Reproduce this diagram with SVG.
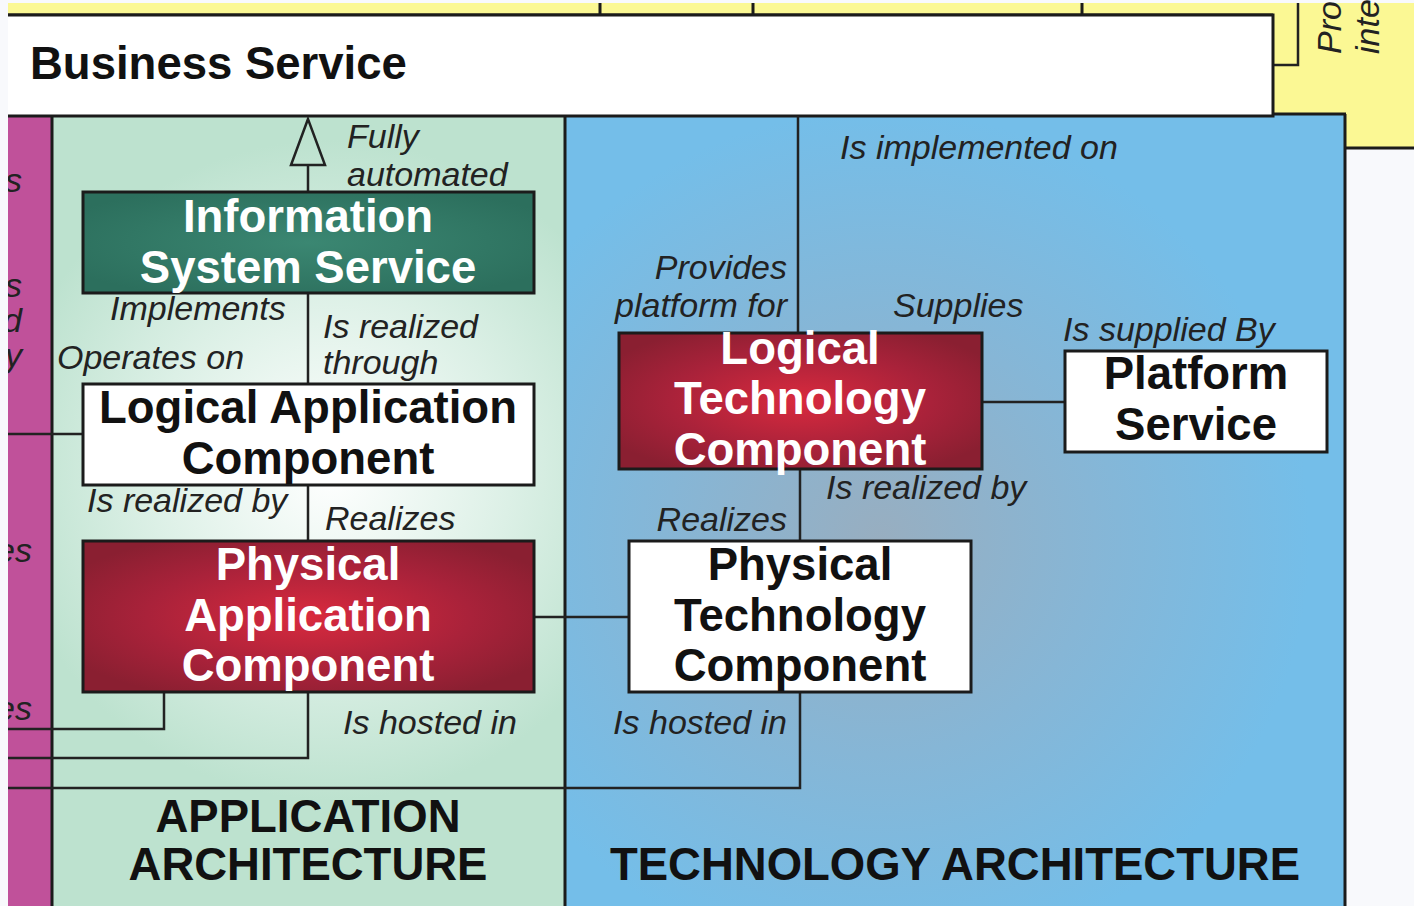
<svg xmlns="http://www.w3.org/2000/svg" width="1414" height="906" viewBox="0 0 1414 906">
<defs>
<radialGradient id="gGreen" cx="330" cy="470" r="330" gradientUnits="userSpaceOnUse">
<stop offset="0" stop-color="#ffffff"/>
<stop offset="0.55" stop-color="#dcf0e6"/>
<stop offset="1" stop-color="#bde2cf"/>
</radialGradient>
<radialGradient id="gBlue" cx="880" cy="540" r="430" gradientUnits="userSpaceOnUse">
<stop offset="0" stop-color="#98aec0"/>
<stop offset="0.5" stop-color="#86b6d6"/>
<stop offset="1" stop-color="#74bee9"/>
</radialGradient>
<radialGradient id="gRed" cx="0.5" cy="0.5" r="0.6">
<stop offset="0" stop-color="#d92a3e"/>
<stop offset="0.6" stop-color="#a9223a"/>
<stop offset="1" stop-color="#8a1f31"/>
</radialGradient>
<radialGradient id="gTeal" cx="0.5" cy="0.5" r="0.6">
<stop offset="0" stop-color="#3b8772"/>
<stop offset="1" stop-color="#2c6f5d"/>
</radialGradient>
<clipPath id="clipL"><rect x="8" y="0" width="44" height="906"/></clipPath>
</defs>
<style>
.bd{stroke:#1b1b1b;stroke-width:3}
.ln{stroke:#222;stroke-width:2.5;fill:none}
.nt{font-family:"Liberation Sans",Arial,sans-serif;font-weight:bold;font-size:45.5px;text-anchor:middle}
.w{fill:#ffffff}
.k{fill:#111111}
.lb{font-family:"Liberation Sans",Arial,sans-serif;font-style:italic;font-size:34px;fill:#222}
.e{text-anchor:end}
.hd{font-family:"Liberation Sans",Arial,sans-serif;font-weight:bold;font-size:45.5px;fill:#111}
</style>
<rect x="0" y="0" width="1414" height="906" fill="#f8f9fc"/>
<g id="background-panels">
<rect x="8" y="3" width="1400" height="12" fill="#fbf894"/>
<rect x="1273" y="3" width="141" height="145" fill="#fbf894"/>
<line x1="8" y1="15" x2="1273" y2="15" class="bd"/>
<line x1="600" y1="3" x2="600" y2="15" class="bd"/>
<line x1="753" y1="3" x2="753" y2="15" class="bd"/>
<line x1="1082" y1="3" x2="1082" y2="15" class="bd"/>
<line x1="1345" y1="148" x2="1414" y2="148" class="bd"/>
<polyline points="1298,3 1298,65 1273,65" class="ln"/>
<text class="lb" transform="translate(1341,54) rotate(-90)">Pro</text>
<text class="lb" transform="translate(1379,54) rotate(-90)">inte</text>
<rect x="8" y="116" width="45" height="800" fill="#c0519a"/>
<rect x="53" y="116" width="513" height="800" fill="url(#gGreen)"/>
<rect x="566" y="114" width="779" height="802" fill="url(#gBlue)"/>
<line x1="52" y1="116" x2="52" y2="906" class="bd"/>
<line x1="565" y1="116" x2="565" y2="906" class="bd"/>
<line x1="1345" y1="114" x2="1345" y2="906" class="bd"/>
<line x1="1273" y1="114" x2="1346" y2="114" class="bd"/>
<g clip-path="url(#clipL)">
<text class="lb e" x="22" y="192">s</text>
<text class="lb e" x="22" y="297">s</text>
<text class="lb e" x="22" y="332">d</text>
<text class="lb e" x="22" y="367">y</text>
<text class="lb e" x="32" y="562">es</text>
<text class="lb e" x="32" y="720">es</text>
</g>
</g>
<g id="business-service">
<rect x="8" y="15" width="1265" height="101" fill="#ffffff"/>
<polyline points="8,15 1273,15 1273,116 8,116" class="bd" fill="none"/>
<text class="hd" x="30" y="79">Business Service</text>
</g>
<g id="connectors">
<line x1="308" y1="165" x2="308" y2="192" class="ln"/>
<polygon points="308,119 291,165 325,165" fill="none" stroke="#222" stroke-width="2.5"/>
<line x1="308" y1="293" x2="308" y2="384" class="ln"/>
<line x1="308" y1="485" x2="308" y2="541" class="ln"/>
<line x1="8" y1="434" x2="83" y2="434" class="ln"/>
<line x1="534" y1="617" x2="629" y2="617" class="ln"/>
<line x1="798" y1="116" x2="798" y2="333" class="ln"/>
<line x1="800" y1="469" x2="800" y2="541" class="ln"/>
<line x1="982" y1="402" x2="1065" y2="402" class="ln"/>
<polyline points="164,692 164,729 8,729" class="ln"/>
<polyline points="308,692 308,758 8,758" class="ln"/>
<polyline points="800,692 800,788 8,788" class="ln"/>
</g>
<g id="connector-labels">
<text class="lb" x="347" y="148">Fully</text>
<text class="lb" x="347" y="186">automated</text>
<text class="lb" x="110" y="320">Implements</text>
<text class="lb" x="57" y="369">Operates on</text>
<text class="lb" x="323" y="338">Is realized</text>
<text class="lb" x="323" y="374">through</text>
<text class="lb" x="87" y="512">Is realized by</text>
<text class="lb" x="325" y="530">Realizes</text>
<text class="lb" x="343" y="734">Is hosted in</text>
<text class="lb" x="840" y="159">Is implemented on</text>
<text class="lb e" x="787" y="279">Provides</text>
<text class="lb e" x="787" y="317">platform for</text>
<text class="lb" x="893" y="317">Supplies</text>
<text class="lb" x="1063" y="341">Is supplied By</text>
<text class="lb" x="826" y="499">Is realized by</text>
<text class="lb e" x="787" y="531">Realizes</text>
<text class="lb e" x="787" y="734">Is hosted in</text>
</g>
<g id="information-system-service">
<rect x="83" y="192" width="451" height="101" fill="url(#gTeal)" class="bd"/>
<text class="nt w" x="308" y="232">Information</text>
<text class="nt w" x="308" y="283">System Service</text>
</g>
<g id="logical-application-component">
<rect x="83" y="384" width="451" height="101" fill="#ffffff" class="bd"/>
<text class="nt k" x="308" y="423">Logical Application</text>
<text class="nt k" x="308" y="474">Component</text>
</g>
<g id="physical-application-component">
<rect x="83" y="541" width="451" height="151" fill="url(#gRed)" class="bd"/>
<text class="nt w" x="308" y="580">Physical</text>
<text class="nt w" x="308" y="631">Application</text>
<text class="nt w" x="308" y="681">Component</text>
</g>
<g id="logical-technology-component">
<rect x="619" y="333" width="363" height="136" fill="url(#gRed)" class="bd"/>
<text class="nt w" x="800" y="364">Logical</text>
<text class="nt w" x="800" y="414">Technology</text>
<text class="nt w" x="800" y="465">Component</text>
</g>
<g id="platform-service">
<rect x="1065" y="351" width="262" height="101" fill="#ffffff" class="bd"/>
<text class="nt k" x="1196" y="389">Platform</text>
<text class="nt k" x="1196" y="440">Service</text>
</g>
<g id="physical-technology-component">
<rect x="629" y="541" width="342" height="151" fill="#ffffff" class="bd"/>
<text class="nt k" x="800" y="580">Physical</text>
<text class="nt k" x="800" y="631">Technology</text>
<text class="nt k" x="800" y="681">Component</text>
</g>
<g id="architecture-labels">
<text class="hd" x="308" y="832" text-anchor="middle">APPLICATION</text>
<text class="hd" x="308" y="880" text-anchor="middle">ARCHITECTURE</text>
<text class="hd" x="955" y="880" text-anchor="middle">TECHNOLOGY ARCHITECTURE</text>
</g>
</svg>
